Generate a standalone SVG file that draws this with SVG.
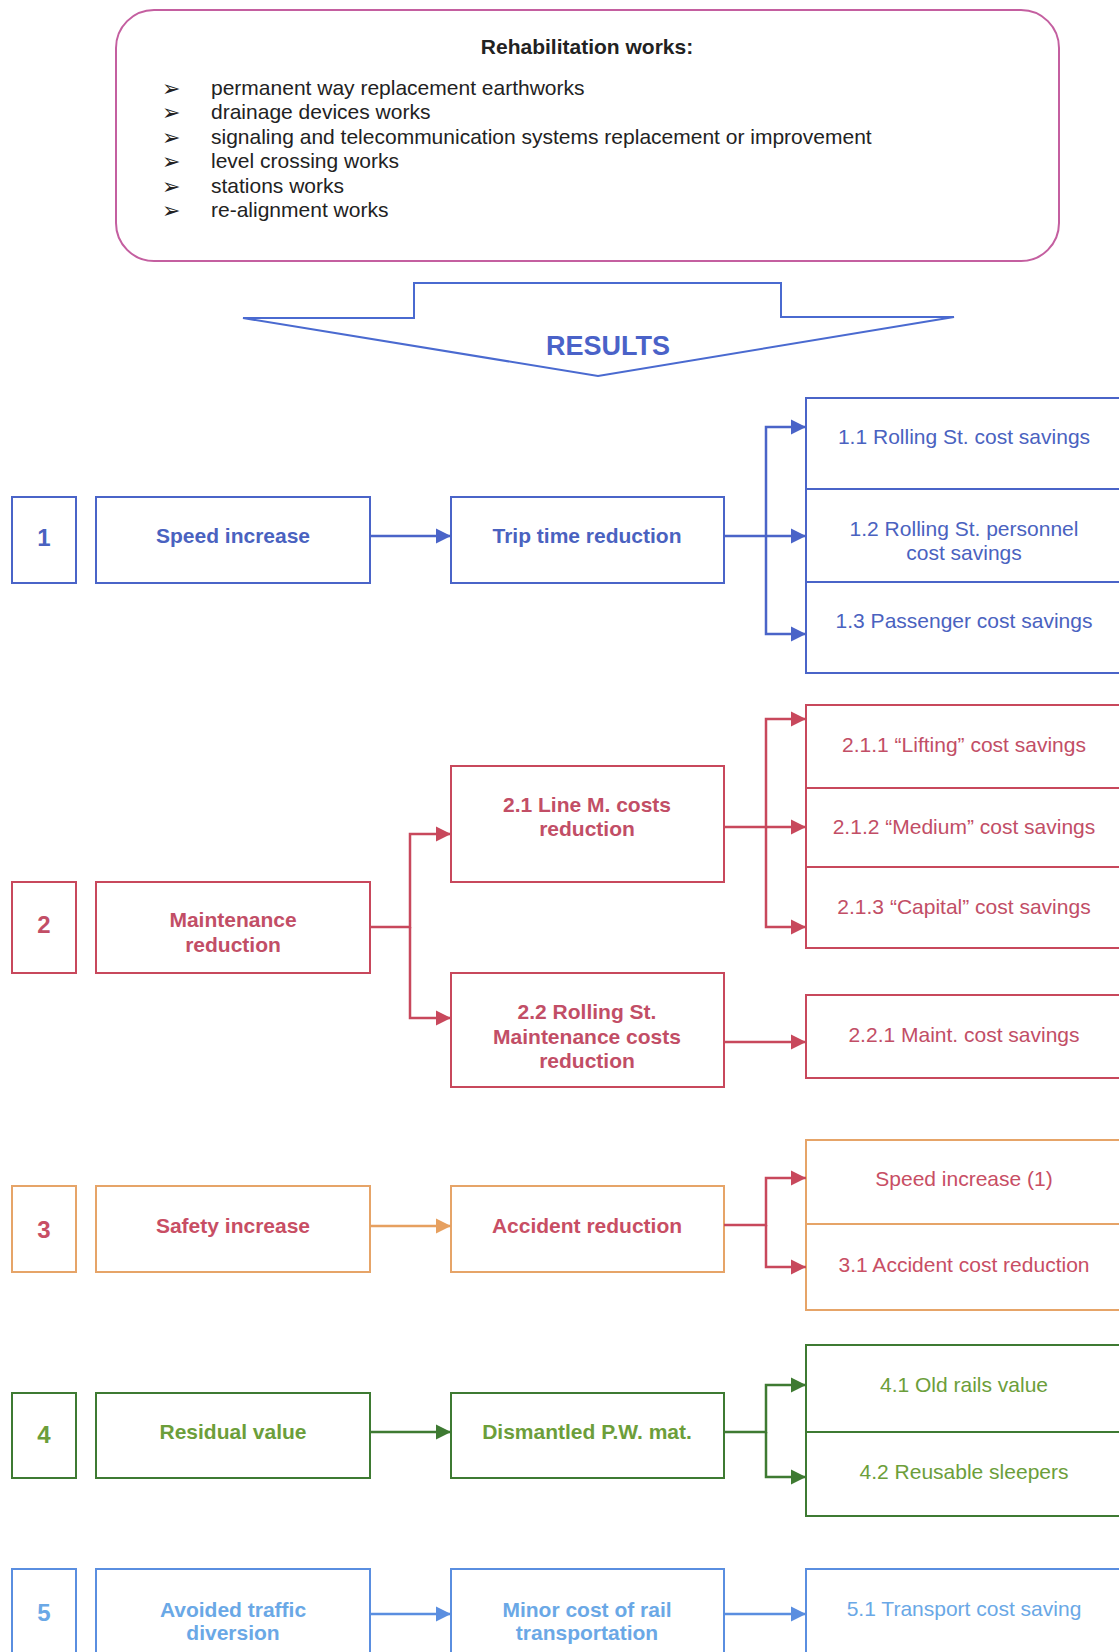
<svg xmlns="http://www.w3.org/2000/svg" width="1119" height="1652" viewBox="0 0 1119 1652">
<style>
text{font-family:"Liberation Sans",Arial,sans-serif;font-size:21px;text-anchor:middle}
.b{font-weight:bold}
.num{font-size:24px}
.bl{font-family:"DejaVu Sans",sans-serif;font-size:22px;text-anchor:start}
.st{text-anchor:start}
.box{fill:#fff;stroke-width:2}
.c1{stroke:#4a64c8}.t1{fill:#4a62c0}
.c2{stroke:#c8485c}.t2{fill:#c24e66}
.c3{stroke:#e6a468}.t3{fill:#c84e64}
.c4{stroke:#3e7a32}.t4{fill:#6c9e3a}
.c5{stroke:#5a8ee0}.t5{fill:#6aa8e6}
.ln{fill:none;stroke-width:2.5}
</style>
<defs>
<marker id="a1" markerUnits="userSpaceOnUse" markerWidth="18" markerHeight="18" refX="15" refY="9" orient="auto"><path d="M0,1.5 L15,9 L0,16.5 Z" fill="#4a64c8"/></marker>
<marker id="a2" markerUnits="userSpaceOnUse" markerWidth="18" markerHeight="18" refX="15" refY="9" orient="auto"><path d="M0,1.5 L15,9 L0,16.5 Z" fill="#c8485c"/></marker>
<marker id="a3" markerUnits="userSpaceOnUse" markerWidth="18" markerHeight="18" refX="15" refY="9" orient="auto"><path d="M0,1.5 L15,9 L0,16.5 Z" fill="#e6a060"/></marker>
<marker id="a4" markerUnits="userSpaceOnUse" markerWidth="18" markerHeight="18" refX="15" refY="9" orient="auto"><path d="M0,1.5 L15,9 L0,16.5 Z" fill="#3e7a32"/></marker>
<marker id="a5" markerUnits="userSpaceOnUse" markerWidth="18" markerHeight="18" refX="15" refY="9" orient="auto"><path d="M0,1.5 L15,9 L0,16.5 Z" fill="#5a8ee0"/></marker>
</defs>
<rect width="1119" height="1652" fill="#fff"/>

<g id="rehab">
<rect x="116" y="10" width="943" height="251" rx="38" ry="38" fill="#fff" stroke="#c45fa0" stroke-width="2"/>
<text class="b" x="587" y="54" fill="#222">Rehabilitation works:</text>
<g fill="#222">
<text class="bl" x="162" y="96">➢</text>
<text class="st" x="211" y="95">permanent way replacement earthworks</text>
<text class="bl" x="162" y="120">➢</text>
<text class="st" x="211" y="119">drainage devices works</text>
<text class="bl" x="162" y="145">➢</text>
<text class="st" x="211" y="144">signaling and telecommunication systems replacement or improvement</text>
<text class="bl" x="162" y="169">➢</text>
<text class="st" x="211" y="168">level crossing works</text>
<text class="bl" x="162" y="194">➢</text>
<text class="st" x="211" y="193">stations works</text>
<text class="bl" x="162" y="218">➢</text>
<text class="st" x="211" y="217">re-alignment works</text>
</g>
</g>

<g id="results">
<path d="M243,318 L414,318 L414,283 L781,283 L781,317 L954,317 L598,376 Z" fill="#fff" stroke="#4a6ad0" stroke-width="2"/>
<text class="b" x="608" y="355" fill="#4a62c8" style="font-size:27px">RESULTS</text>
</g>

<!-- Row 1 -->
<g id="n1"><rect class="box c1" x="12" y="497" width="64" height="86"/><text class="b t1 num" x="44" y="546">1</text></g>
<g id="n1a"><rect class="box c1" x="96" y="497" width="274" height="86"/><text class="b t1" x="233" y="543">Speed increase</text></g>
<g id="n1b"><rect class="box c1" x="451" y="497" width="273" height="86"/><text class="b t1" x="587" y="543">Trip time reduction</text></g>
<g id="n11"><rect class="box c1" x="806" y="398" width="330" height="91"/><text class="t1" x="964" y="444">1.1 Rolling St. cost savings</text></g>
<g id="n12"><rect class="box c1" x="806" y="489" width="330" height="93"/><text class="t1" x="964" y="536">1.2 Rolling St. personnel</text><text class="t1" x="964" y="560">cost savings</text></g>
<g id="n13"><rect class="box c1" x="806" y="582" width="330" height="91"/><text class="t1" x="964" y="628">1.3 Passenger cost savings</text></g>

<!-- Row 2 -->
<g id="n2"><rect class="box c2" x="12" y="882" width="64" height="91"/><text class="b t2 num" x="44" y="933">2</text></g>
<g id="n2a"><rect class="box c2" x="96" y="882" width="274" height="91"/><text class="b t2" x="233" y="927">Maintenance</text><text class="b t2" x="233" y="952">reduction</text></g>
<g id="n21"><rect class="box c2" x="451" y="766" width="273" height="116"/><text class="b t2" x="587" y="812">2.1 Line M. costs</text><text class="b t2" x="587" y="836">reduction</text></g>
<g id="n22"><rect class="box c2" x="451" y="973" width="273" height="114"/><text class="b t2" x="587" y="1019">2.2 Rolling St.</text><text class="b t2" x="587" y="1044">Maintenance costs</text><text class="b t2" x="587" y="1068">reduction</text></g>
<g id="n211"><rect class="box c2" x="806" y="705" width="330" height="83"/><text class="t2" x="964" y="752">2.1.1 “Lifting” cost savings</text></g>
<g id="n212"><rect class="box c2" x="806" y="788" width="330" height="79"/><text class="t2" x="964" y="834">2.1.2 “Medium” cost savings</text></g>
<g id="n213"><rect class="box c2" x="806" y="867" width="330" height="81"/><text class="t2" x="964" y="914">2.1.3 “Capital” cost savings</text></g>
<g id="n221"><rect class="box c2" x="806" y="995" width="330" height="83"/><text class="t2" x="964" y="1042">2.2.1 Maint. cost savings</text></g>

<!-- Row 3 -->
<g id="n3"><rect class="box c3" x="12" y="1186" width="64" height="86"/><text class="b t3 num" x="44" y="1238">3</text></g>
<g id="n3a"><rect class="box c3" x="96" y="1186" width="274" height="86"/><text class="b t3" x="233" y="1233">Safety increase</text></g>
<g id="n3b"><rect class="box c3" x="451" y="1186" width="273" height="86"/><text class="b t3" x="587" y="1233">Accident reduction</text></g>
<g id="n3s"><rect class="box c3" x="806" y="1140" width="330" height="84"/><text class="t3" x="964" y="1186">Speed increase (1)</text></g>
<g id="n31"><rect class="box c3" x="806" y="1224" width="330" height="86"/><text class="t3" x="964" y="1272">3.1 Accident cost reduction</text></g>

<!-- Row 4 -->
<g id="n4"><rect class="box c4" x="12" y="1393" width="64" height="85"/><text class="b t4 num" x="44" y="1443">4</text></g>
<g id="n4a"><rect class="box c4" x="96" y="1393" width="274" height="85"/><text class="b t4" x="233" y="1439">Residual value</text></g>
<g id="n4b"><rect class="box c4" x="451" y="1393" width="273" height="85"/><text class="b t4" x="587" y="1439">Dismantled P.W. mat.</text></g>
<g id="n41"><rect class="box c4" x="806" y="1345" width="330" height="87"/><text class="t4" x="964" y="1392">4.1 Old rails value</text></g>
<g id="n42"><rect class="box c4" x="806" y="1432" width="330" height="84"/><text class="t4" x="964" y="1479">4.2 Reusable sleepers</text></g>

<!-- Row 5 -->
<g id="n5"><rect class="box c5" x="12" y="1569" width="64" height="100"/><text class="b t5 num" x="44" y="1621">5</text></g>
<g id="n5a"><rect class="box c5" x="96" y="1569" width="274" height="100"/><text class="b t5" x="233" y="1617">Avoided traffic</text><text class="b t5" x="233" y="1640">diversion</text></g>
<g id="n5b"><rect class="box c5" x="451" y="1569" width="273" height="100"/><text class="b t5" x="587" y="1617">Minor cost of rail</text><text class="b t5" x="587" y="1640">transportation</text></g>
<g id="n51"><rect class="box c5" x="806" y="1569" width="330" height="100"/><text class="t5" x="964" y="1616">5.1 Transport cost saving</text></g>

<g id="connectors">
<g class="ln" stroke="#4a64c8">
<path d="M370,536 L451,536" marker-end="url(#a1)"/>
<path d="M724,536 L806,536" marker-end="url(#a1)"/>
<path d="M766,536 L766,427 L806,427" marker-end="url(#a1)"/>
<path d="M766,536 L766,634 L806,634" marker-end="url(#a1)"/>
</g>
<g class="ln" stroke="#c8485c">
<path d="M370,927 L410,927 L410,834 L451,834" marker-end="url(#a2)"/>
<path d="M410,927 L410,1018 L451,1018" marker-end="url(#a2)"/>
<path d="M724,827 L806,827" marker-end="url(#a2)"/>
<path d="M766,827 L766,719 L806,719" marker-end="url(#a2)"/>
<path d="M766,827 L766,927 L806,927" marker-end="url(#a2)"/>
<path d="M724,1042 L806,1042" marker-end="url(#a2)"/>
</g>
<g class="ln" stroke="#e6a060">
<path d="M370,1226 L451,1226" marker-end="url(#a3)"/>
</g>
<g class="ln" stroke="#c8485c">
<path d="M724,1225 L766,1225 L766,1178 L806,1178" marker-end="url(#a2)"/>
<path d="M766,1225 L766,1267 L806,1267" marker-end="url(#a2)"/>
</g>
<g class="ln" stroke="#3e7a32">
<path d="M370,1432 L451,1432" marker-end="url(#a4)"/>
<path d="M724,1432 L766,1432 L766,1385 L806,1385" marker-end="url(#a4)"/>
<path d="M766,1432 L766,1477 L806,1477" marker-end="url(#a4)"/>
</g>
<g class="ln" stroke="#5a8ee0">
<path d="M370,1614 L451,1614" marker-end="url(#a5)"/>
<path d="M724,1614 L806,1614" marker-end="url(#a5)"/>
</g>
</g>
</svg>
